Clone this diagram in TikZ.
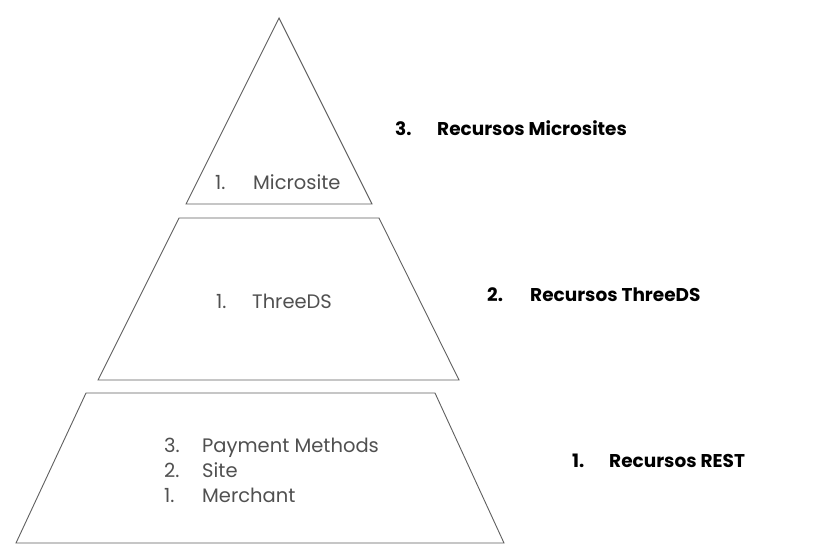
\documentclass[tikz,border=0pt]{standalone}
\usepackage{fontspec}
\setmainfont{Poppins}
\definecolor{edge}{HTML}{606060}
\definecolor{txtgray}{HTML}{505050}
\begin{document}
\begin{tikzpicture}[x=1pt,y=-1pt,
  layer/.style={draw=edge,line width=0.9pt,line join=miter},
  inner/.style={inner sep=0pt,anchor=base west,text=txtgray,font=\fontsize{19.5}{22}\selectfont},
  side/.style={inner sep=0pt,anchor=base west,text=black,font=\fontsize{18.5}{22}\selectfont\bfseries}]
\useasboundingbox[fill=white] (0,0) rectangle (825,550);
% pyramid layers
\coordinate (t1) at (279,18);
\coordinate (t2) at (186,204);
\coordinate (t3) at (372,204);
\draw[layer] (t1) -- (t2) -- (t3) -- cycle;
\coordinate (m1) at (179,218);
\coordinate (m2) at (379,218);
\coordinate (m3) at (459,380);
\coordinate (m4) at (98,380);
\draw[layer] (m1) -- (m2) -- (m3) -- (m4) -- cycle;
\coordinate (b1) at (86,393);
\coordinate (b2) at (435,393);
\coordinate (b3) at (504,543);
\coordinate (b4) at (16,543);
\draw[layer] (b1) -- (b2) -- (b3) -- (b4) -- cycle;
% inner texts
\node[inner] (n1) at (215,189) {1.};
\node[inner] (w1) at (253,189) {Microsite};
\node[inner] (n2) at (216,308) {1.};
\node[inner] (w2) at (252,308) {ThreeDS};
\node[inner] (n3) at (164,452) {3.};
\node[inner] (w3) at (202,452) {Payment Methods};
\node[inner] (n4) at (164,477) {2.};
\node[inner] (w4) at (202,477) {Site};
\node[inner] (n5) at (164,502) {1.};
\node[inner] (w5) at (202,502) {Merchant};
% side labels
\node[side] (s1) at (395,135) {3.};
\node[side] (r1) at (437,135) {Recursos Microsites};
\node[side] (s2) at (487,301) {2.};
\node[side] (r2) at (530,301) {Recursos ThreeDS};
\node[side] (s3) at (572,467) {1.};
\node[side] (r3) at (609,467) {Recursos REST};
\end{tikzpicture}
\end{document}
